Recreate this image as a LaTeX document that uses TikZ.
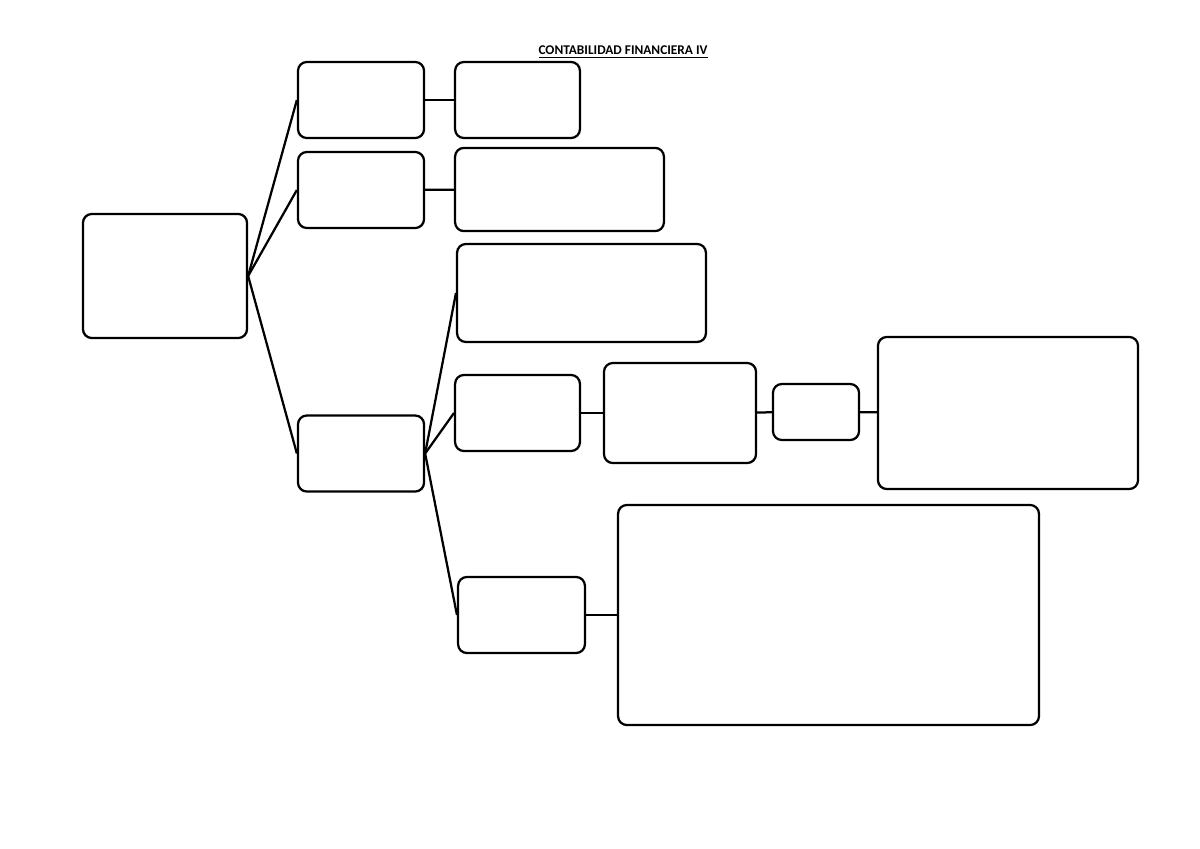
\documentclass[tikz,border=0pt]{standalone}
\usepackage{fontspec}
\setmainfont{Carlito}
\usepackage{tikz}
\usetikzlibrary{positioning}

\begin{document}
\begin{tikzpicture}[x=0.025cm,y=-0.025cm,line width=1.6pt,
    mapbox/.style={draw,rounded corners=0.22cm,inner sep=0pt}]

\useasboundingbox (0,0) rectangle (1200,848);

\node[font=\bfseries\fontsize{9.5}{11}\selectfont] (title) at (623,52) {\underline{CONTABILIDAD FINANCIERA IV}};

\node[mapbox, minimum width=4.1cm, minimum height=3.1cm] (root) at (165,276) {};

\node[mapbox, minimum width=3.15cm, minimum height=1.9cm] (topA) at (361,100) {};
\node[mapbox, minimum width=3.12cm, minimum height=1.9cm] (topB) at (517.5,100) {};

\node[mapbox, minimum width=3.15cm, minimum height=1.9cm] (midA) at (361,190) {};
\node[mapbox, minimum width=5.22cm, minimum height=2.08cm] (midB) at (559.5,189.5) {};

\node[mapbox, minimum width=3.15cm, minimum height=1.9cm] (lowA) at (361,453.5) {};
\node[mapbox, minimum width=6.22cm, minimum height=2.45cm] (lowB) at (581.5,293) {};

\node[mapbox, minimum width=3.12cm, minimum height=1.9cm] (rowA) at (517.5,413) {};
\node[mapbox, minimum width=3.8cm, minimum height=2.5cm] (rowB) at (680,413) {};
\node[mapbox, minimum width=2.15cm, minimum height=1.4cm] (rowC) at (816,412) {};
\node[mapbox, minimum width=6.5cm, minimum height=3.8cm] (rowD) at (1008,413) {};

\node[mapbox, minimum width=3.17cm, minimum height=1.9cm] (botA) at (521.5,615) {};
\node[mapbox, minimum width=10.52cm, minimum height=5.5cm] (botB) at (828.5,615) {};

\draw (root.east) -- (topA.west);
\draw (root.east) -- (midA.west);
\draw (root.east) -- (lowA.west);

\draw (topA) -- (topB);
\draw (midA) -- (midB);

\draw (lowA.east) -- (lowB.west);
\draw (lowA.east) -- (rowA.west);
\draw (lowA.east) -- (botA.west);

\draw (rowA) -- (rowB);
\draw (rowB) -- (rowC);
\draw (rowC) -- (rowD);
\draw (botA) -- (botB);

\end{tikzpicture}
\end{document}
